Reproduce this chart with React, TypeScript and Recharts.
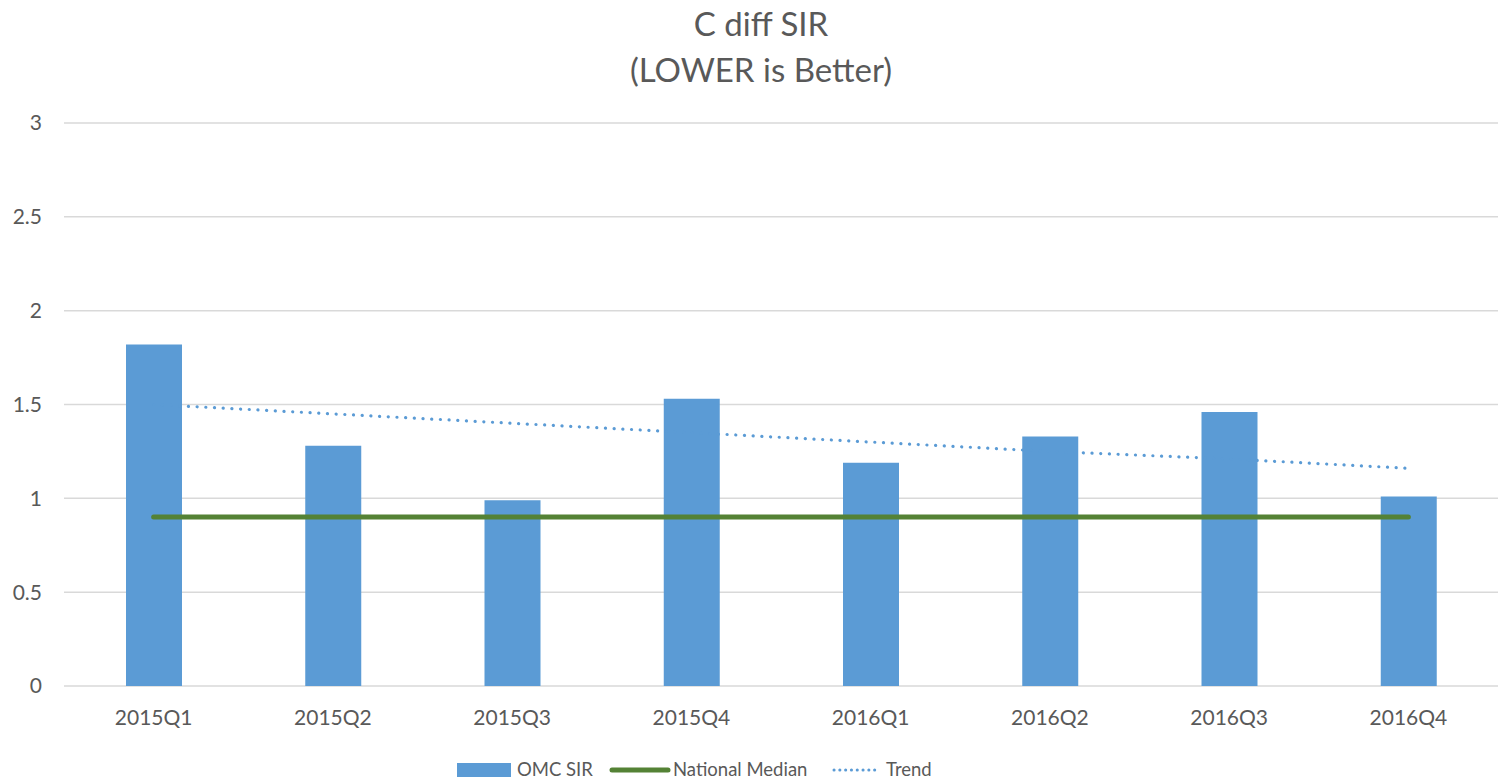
import { ComposedChart, Bar, Line, XAxis, YAxis, CartesianGrid } from 'recharts';

const quarters = ['2015Q1', '2015Q2', '2015Q3', '2015Q4', '2016Q1', '2016Q2', '2016Q3', '2016Q4'];
const omcSir = [1.82, 1.28, 0.99, 1.53, 1.19, 1.33, 1.46, 1.01];
const nationalMedian = [0.9, 0.9, 0.9, 0.9, 0.9, 0.9, 0.9, 0.9];
const trend = [1.5, 1.45, 1.4, 1.35, 1.3, 1.25, 1.21, 1.16];
const yTicks = [0, 0.5, 1, 1.5, 2, 2.5, 3];

const data = quarters.map((q, i) => ({
  quarter: q,
  omc: omcSir[i],
  median: nationalMedian[i],
  trend: trend[i],
}));

const FONT = 'Lato, "Open Sans", sans-serif';
const TEXT = '#595959';
const BLUE = '#5b9bd5';
const GREEN = '#548235';

const App = () => {
  return (
    <div style={{ position: 'absolute', left: 0, top: 0, width: 1498, height: 782, background: '#fff', fontFamily: FONT, overflow: 'hidden' }}>
      {/* Title */}
      <div style={{ position: 'absolute', left: 0, width: 1522, top: 0, textAlign: 'center', color: TEXT, fontSize: 33, lineHeight: '46px' }}>
        <div>C diff SIR</div>
        <div>(LOWER is Better)</div>
      </div>

      <ComposedChart
        width={1498}
        height={782}
        data={data}
        margin={{ top: 123, right: 0, bottom: 0, left: 0 }}
        barCategoryGap={0}
      >
        <CartesianGrid vertical={false} stroke="#d9d9d9" strokeWidth={1.5} />
        <XAxis
          dataKey="quarter"
          height={96}
          axisLine={false}
          tickLine={false}
          tickMargin={18}
          interval={0}
          tick={{ fill: TEXT, fontSize: 21, fontFamily: FONT }}
        />
        <YAxis
          width={64}
          domain={[0, 3]}
          ticks={yTicks}
          axisLine={false}
          tickLine={false}
          tickMargin={16}
          tick={{ fill: TEXT, fontSize: 21, fontFamily: FONT }}
        />
        <Bar dataKey="omc" fill={BLUE} barSize={56} isAnimationActive={false} />
        <Line
          dataKey="median"
          stroke={GREEN}
          strokeWidth={5}
          strokeLinecap="round"
          dot={false}
          activeDot={false}
          isAnimationActive={false}
        />
        <Line
          dataKey="trend"
          stroke={BLUE}
          strokeWidth={3.2}
          strokeLinecap="round"
          strokeDasharray="0.1 8.6"
          dot={false}
          activeDot={false}
          isAnimationActive={false}
        />
      </ComposedChart>

      {/* Legend */}
      <div style={{ position: 'absolute', top: 758, left: 0, height: 26, color: TEXT, fontSize: 18.5, whiteSpace: 'nowrap' }}>
        <span style={{ position: 'absolute', left: 457, top: 5, width: 54, height: 14, background: BLUE }} />
        <span style={{ position: 'absolute', left: 517, top: 0 }}>OMC SIR</span>
        <svg style={{ position: 'absolute', left: 608, top: 4 }} width={64} height={16}>
          <line x1={4} y1={8} x2={60} y2={8} stroke={GREEN} strokeWidth={5} strokeLinecap="round" />
        </svg>
        <span style={{ position: 'absolute', left: 673, top: 0 }}>National Median</span>
        <svg style={{ position: 'absolute', left: 830, top: 4 }} width={50} height={16}>
          <line x1={4} y1={8} x2={46} y2={8} stroke={BLUE} strokeWidth={3} strokeLinecap="round" strokeDasharray="0.1 5.7" />
        </svg>
        <span style={{ position: 'absolute', left: 886, top: 0 }}>Trend</span>
      </div>
    </div>
  );
};

export default App;
